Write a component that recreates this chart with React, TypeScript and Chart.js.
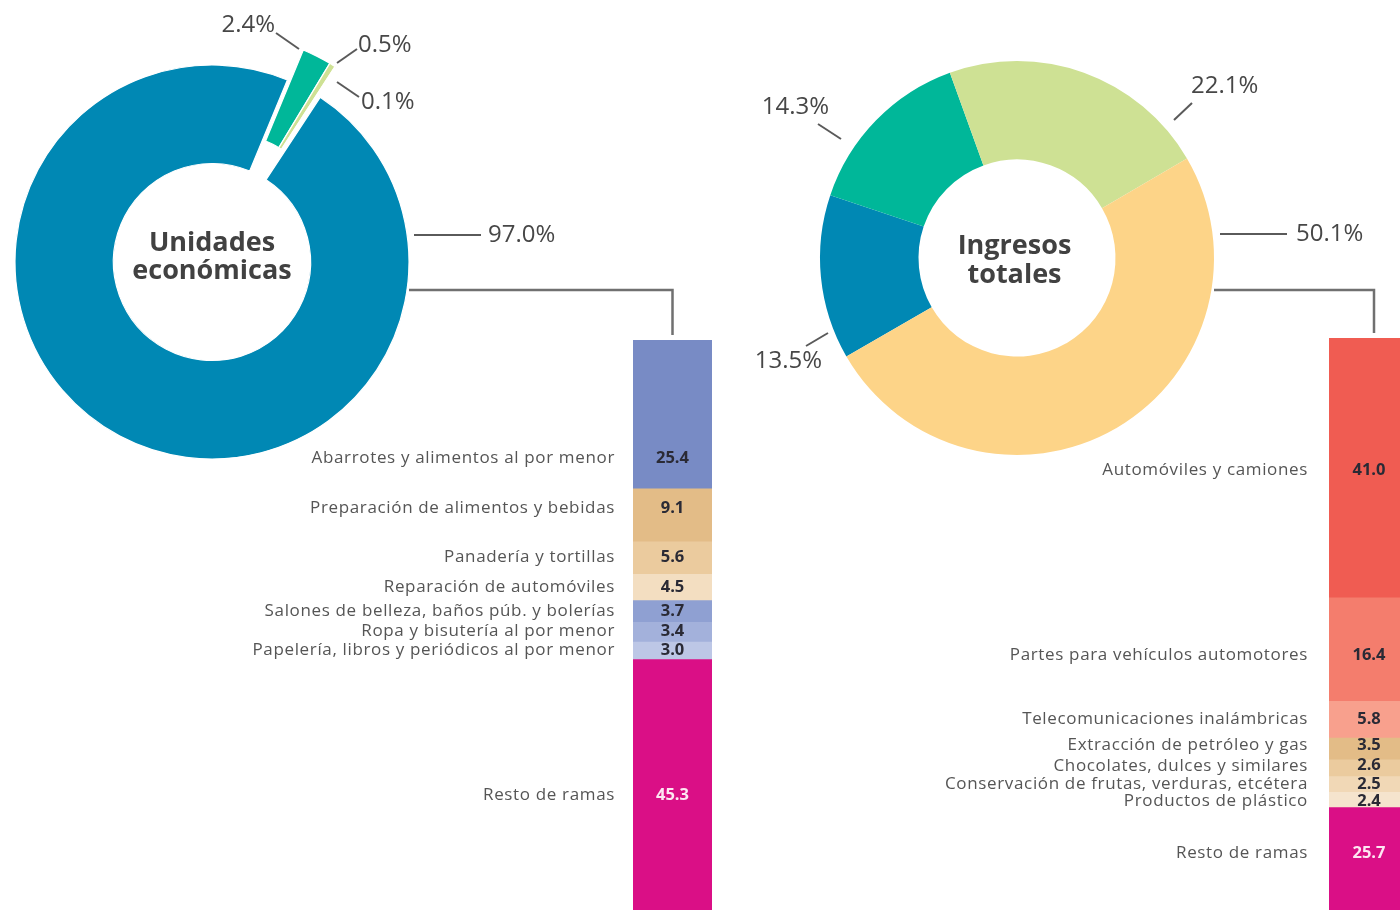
import { useEffect, useRef } from 'react';
import { Chart, registerables } from 'chart.js';

Chart.register(...registerables);

const CANVAS_W = 1440;
const CANVAS_H = 980;
const VISIBLE_BOTTOM = 910;
const FONT = '"Open Sans", "Noto Sans", sans-serif';

// ---- Data ----
// Sector order is the same in both rings: blue, teal, light green, yellow
const sectorColors = ['#0088B4', '#00B799', '#CEE194', '#FDD488'];
const unitsShares = [97.0, 2.4, 0.5, 0.1];
const incomeShares = [13.5, 14.3, 22.1, 50.1];

const unitsBranches = [
  'Abarrotes y alimentos al por menor',
  'Preparación de alimentos y bebidas',
  'Panadería y tortillas',
  'Reparación de automóviles',
  'Salones de belleza, baños púb. y bolerías',
  'Ropa y bisutería al por menor',
  'Papelería, libros y periódicos al por menor',
  'Resto de ramas',
];
const unitsBranchValues = [25.4, 9.1, 5.6, 4.5, 3.7, 3.4, 3.0, 45.3];
const unitsBranchColors = ['#788BC5', '#E3BC87', '#EBCB9E', '#F3DEC1', '#8FA0D2', '#A3B1DB', '#BDC7E6', '#DA0F86'];

const incomeBranches = [
  'Automóviles y camiones',
  'Partes para vehículos automotores',
  'Telecomunicaciones inalámbricas',
  'Extracción de petróleo y gas',
  'Chocolates, dulces y similares',
  'Conservación de frutas, verduras, etcétera',
  'Productos de plástico',
  'Resto de ramas',
];
const incomeBranchValues = [41.0, 16.4, 5.8, 3.5, 2.6, 2.5, 2.4, 25.7];
const incomeBranchColors = ['#F05C52', '#F47D6D', '#F8A08D', '#E3BC87', '#EBCB9E', '#F1D8B6', '#F5E4CD', '#DA0F86'];

// ---- Layout (annotation placement, not data) ----
type Leader = { slice: number; from: [number, number]; to: [number, number]; text: [number, number]; align: CanvasTextAlign };
type Ring = {
  cx: number; cy: number; r: number; rotation: number; border: number;
  title: string[]; titleDx: number; titleBase: number[];
  explode: boolean[]; explodeDist: number; leaders: Leader[];
};

const unitsRing: Ring = {
  cx: 212, cy: 262, r: 197, rotation: 33.3, border: 1.2,
  title: ['Unidades', 'económicas'], titleDx: 0, titleBase: [-11, 17],
  explode: [false, true, true, true], explodeDist: 34,
  leaders: [
    { slice: 0, from: [202, -27], to: [269, -27], text: [276, -27], align: 'left' },
    { slice: 1, from: [87, -213], to: [64, -229], text: [63, -237], align: 'right' },
    { slice: 2, from: [125, -199], to: [145, -213], text: [146, -217], align: 'left' },
    { slice: 3, from: [125, -180], to: [147, -165], text: [149, -160], align: 'left' },
  ],
};

const incomeRing: Ring = {
  cx: 1017, cy: 258, r: 197, rotation: 240, border: 0,
  title: ['Ingresos', 'totales'], titleDx: -2.5, titleBase: [-4, 25],
  explode: [false, false, false, false], explodeDist: 0,
  leaders: [
    { slice: 3, from: [203, -24], to: [270, -24], text: [279, -24], align: 'left' },
    { slice: 2, from: [157, -138], to: [175, -155], text: [174, -172], align: 'left' },
    { slice: 1, from: [-176, -119], to: [-199, -134], text: [-188, -151], align: 'right' },
    { slice: 0, from: [-189, 75], to: [-211, 88], text: [-195, 103], align: 'right' },
  ],
};

type BarLayout = {
  left: number; right: number; top: number; bottom: number;
  labelGap: number; nudges: number[]; ring: Ring; connectorY: number; connectorDx: number;
};

const unitsBar: BarLayout = {
  left: 633, right: 712, top: 340, bottom: 923, labelGap: 18,
  nudges: [44, -6, 0, 0, 0, 0, 0, 11], ring: unitsRing, connectorY: 290, connectorDx: 0,
};
const incomeBar: BarLayout = {
  left: 1329, right: 1409, top: 338, bottom: 970, labelGap: 21,
  nudges: [3, 6, 0, -3, -2, 0, 2, -5], ring: incomeRing, connectorY: 290, connectorDx: 5,
};

// ---- Plugins ----
function ringDecor(ring: Ring) {
  return {
    id: 'ringDecor',
    afterDatasetUpdate(chart: any) {
      const arcs = chart.getDatasetMeta(0).data as any[];
      const idx = ring.explode.map((e, i) => (e ? i : -1)).filter((i) => i >= 0);
      if (!idx.length || !ring.explodeDist) return;
      const mid = (arcs[idx[0]].startAngle + arcs[idx[idx.length - 1]].endAngle) / 2;
      idx.forEach((i) => {
        arcs[i].x += Math.cos(mid) * ring.explodeDist;
        arcs[i].y += Math.sin(mid) * ring.explodeDist;
      });
    },
    afterDatasetsDraw(chart: any) {
      const ctx: CanvasRenderingContext2D = chart.ctx;
      const base = chart.getDatasetMeta(0).data[0];
      const cx = base.x;
      const cy = base.y;
      const values = chart.data.datasets[0].data as number[];
      ctx.save();
      ctx.fillStyle = '#414141';
      ctx.font = `bold 27px ${FONT}`;
      ctx.textAlign = 'center';
      ctx.textBaseline = 'alphabetic';
      ring.title.forEach((t, i) => ctx.fillText(t, cx + ring.titleDx, cy + ring.titleBase[i]));

      ctx.strokeStyle = '#5a5a5a';
      ctx.lineWidth = 2;
      ctx.font = `24px ${FONT}`;
      ctx.textBaseline = 'middle';
      ring.leaders.forEach((l) => {
        ctx.beginPath();
        ctx.moveTo(cx + l.from[0], cy + l.from[1]);
        ctx.lineTo(cx + l.to[0], cy + l.to[1]);
        ctx.stroke();
        ctx.textAlign = l.align;
        ctx.fillStyle = '#474747';
        ctx.fillText(`${values[l.slice].toFixed(1)}%`, cx + l.text[0], cy + l.text[1]);
      });
      ctx.restore();
    },
  };
}

function barDecor(b: BarLayout) {
  return {
    id: 'barDecor',
    afterDatasetsDraw(chart: any) {
      const ctx: CanvasRenderingContext2D = chart.ctx;
      const area = chart.chartArea;
      ctx.save();
      const bx = (area.left + area.right) / 2 + b.connectorDx;
      ctx.strokeStyle = '#707070';
      ctx.lineWidth = 2.5;
      ctx.beginPath();
      ctx.moveTo(b.ring.cx + b.ring.r, b.connectorY);
      ctx.lineTo(bx, b.connectorY);
      ctx.lineTo(bx, area.top - 5);
      ctx.stroke();

      const n = chart.data.datasets.length;
      chart.data.datasets.forEach((ds: any, i: number) => {
        const el = chart.getDatasetMeta(i).data[0];
        const top = Math.min(el.y, el.base);
        const bottom = Math.min(Math.max(el.y, el.base), VISIBLE_BOTTOM);
        const y = (top + bottom) / 2 + b.nudges[i];
        ctx.textBaseline = 'middle';
        ctx.textAlign = 'right';
        ctx.font = `17px ${FONT}`;
        (ctx as any).letterSpacing = '0.65px';
        ctx.fillStyle = '#555555';
        ctx.fillText(ds.label, area.left - b.labelGap, y);
        (ctx as any).letterSpacing = '0px';
        ctx.textAlign = 'center';
        ctx.font = `bold 16.5px ${FONT}`;
        ctx.fillStyle = i === n - 1 ? '#FDE6F2' : '#2A2A35';
        ctx.fillText((ds.data[0] as number).toFixed(1), el.x, y);
      });
      ctx.restore();
    },
  };
}

// ---- Chart configs ----
function ringConfig(values: number[], ring: Ring): any {
  const half = 200;
  return {
    type: 'doughnut',
    data: {
      labels: values.map((v) => `${v.toFixed(1)}%`),
      datasets: [
        {
          data: values,
          backgroundColor: sectorColors,
          borderColor: '#ffffff',
          borderWidth: ring.border,
          rotation: ring.rotation,
          clip: false,
        },
      ],
    },
    options: {
      animation: false,
      responsive: false,
      events: [],
      radius: ring.r,
      cutout: '50%',
      rotation: ring.rotation,
      layout: {
        padding: {
          left: ring.cx - half,
          right: CANVAS_W - ring.cx - half,
          top: ring.cy - half,
          bottom: CANVAS_H - ring.cy - half,
        },
      },
      plugins: { legend: { display: false }, tooltip: { enabled: false } },
    },
    plugins: [ringDecor(ring)],
  };
}

function barConfig(names: string[], values: number[], colors: string[], b: BarLayout): any {
  return {
    type: 'bar',
    data: {
      labels: [''],
      datasets: values.map((v, i) => ({
        label: names[i],
        data: [v],
        backgroundColor: colors[i],
        borderWidth: 0,
        barPercentage: 1,
        categoryPercentage: 1,
      })),
    },
    options: {
      animation: false,
      responsive: false,
      events: [],
      layout: {
        padding: { left: b.left, right: CANVAS_W - b.right, top: b.top, bottom: CANVAS_H - b.bottom },
      },
      scales: {
        x: { display: false, stacked: true },
        y: { display: false, stacked: true, min: 0, max: 100, reverse: true },
      },
      plugins: { legend: { display: false }, tooltip: { enabled: false } },
    },
    plugins: [barDecor(b)],
  };
}

const makers = [
  () => ringConfig(unitsShares, unitsRing),
  () => ringConfig(incomeShares, incomeRing),
  () => barConfig(unitsBranches, unitsBranchValues, unitsBranchColors, unitsBar),
  () => barConfig(incomeBranches, incomeBranchValues, incomeBranchColors, incomeBar),
];

function ChartLayer({ make }: { make: () => any }) {
  const ref = useRef<HTMLCanvasElement>(null);
  useEffect(() => {
    const chart = new Chart(ref.current as HTMLCanvasElement, make());
    return () => chart.destroy();
  }, [make]);
  return (
    <canvas
      ref={ref}
      width={CANVAS_W}
      height={CANVAS_H}
      style={{ position: 'absolute', left: 0, top: 0, width: CANVAS_W, height: CANVAS_H }}
    />
  );
}

export default function App() {
  return (
    <div
      style={{
        position: 'fixed',
        left: 0,
        top: 0,
        width: 1400,
        height: 910,
        overflow: 'hidden',
        background: '#ffffff',
      }}
    >
      {makers.map((m, i) => (
        <ChartLayer key={i} make={m} />
      ))}
    </div>
  );
}
